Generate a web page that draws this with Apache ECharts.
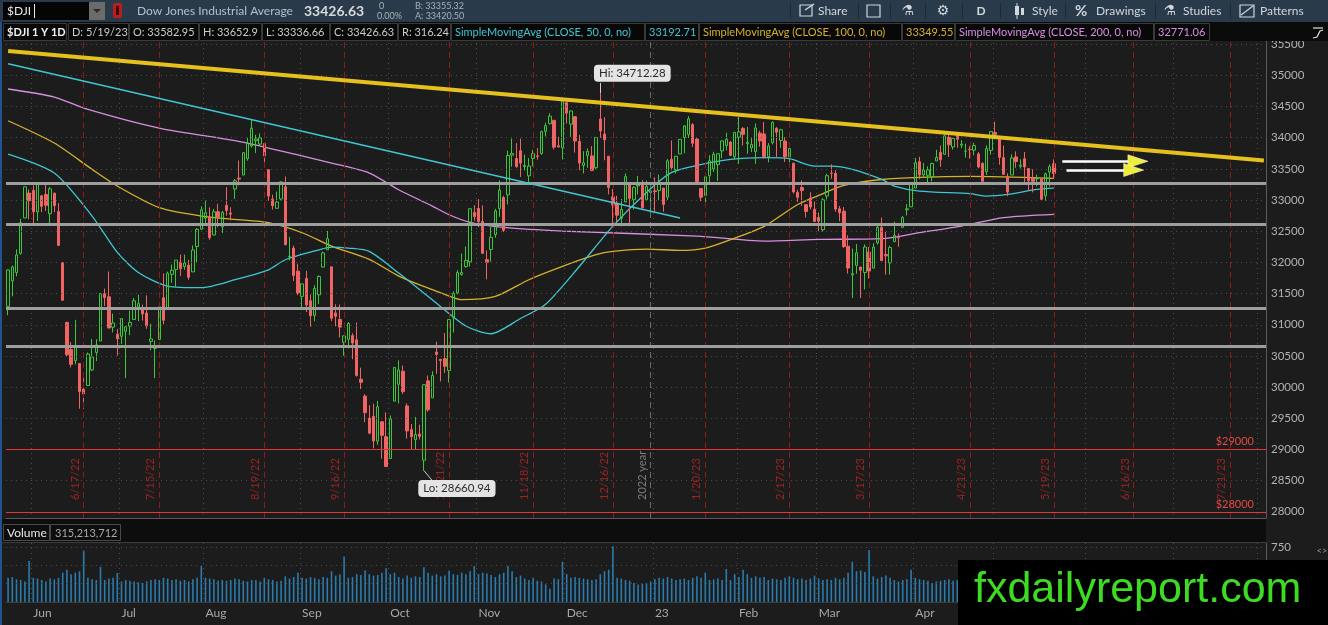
<!DOCTYPE html>
<html><head><meta charset="utf-8">
<script src="https://cdn.jsdelivr.net/npm/echarts@6/dist/echarts.min.js"></script>
<style>html,body{margin:0;padding:0;background:#1c1c1c;overflow:hidden}#c{width:1328px;height:625px}</style>
</head><body><div id="c"></div>
<script>
// ---------------- DATA ----------------
const HOLIDAYS = ['5/30/22','6/20/22','7/4/22','9/5/22','11/24/22','12/26/22','1/2/23','1/16/23','2/20/23','4/7/23','5/29/23','6/19/23','7/4/23'];
const N_SLOTS = 300; // 250 traded days + future empty days on the axis
const opens = [31295,31703,31839,32145,32714,33112,
33156,32811,33068,33089,32783,33110,32816,31994,31039,30603,30424,30377,29966,30026,30276,30556,30739,31496,31448,30961,30847,
30815,30896,30978,31084,31283,31251,31189,30733,30622,30764,31433,31262,31809,31885,32003,31934,31955,31848,32254,32532,
32712,32729,32440,32813,32575,32915,32792,33178,33352,33404,33664,33868,33954,33898,33907,33488,33015,32868,33017,33215,32092,32230,31860,
31455,31743,31384,31149,31480,31925,32202,31930,31190,31084,30720,30765,30826,30758,30127,29856,29503,29531,29134,29444,29205,
28855,29774,30046,30255,29698,29318,29155,29245,28826,30100,29828,30563,30445,30456,30265,31111,31510,31806,31934,32008,32802,
32864,32660,32045,32208,32448,32865,33040,33083,33721,33667,33791,33537,33389,33667,33709,33748,34103,34225,34278,33871,33840,
34563,34217,34338,33941,33556,33715,33709,33519,34300,34059,33704,33052,32953,32712,32969,33244,33006,33226,33279,33004,33121,
33148,33155,33193,33048,33654,33486,33740,34004,34050,34213,33979,33185,33072,33390,33500,33569,33789,33877,33930,33693,
34009,34150,33904,33837,33778,34074,34060,33697,33921,34151,33957,33948,33694,33593,33124,33201,32926,33035,32854,
32721,32524,33066,33432,33429,32860,32822,32259,31799,31952,31926,31838,32164,31908,32315,32561,32128,31993,32332,32400,32563,32844,32892,
33192,33616,33404,33398,33369,33628,33766,33734,34006,33852,34061,33881,33784,33813,33800,33740,33589,33456,33797,
34085,33974,33682,33381,33402,33692,33542,33663,33506,33353,33340,33342,33069,33448,33582.95];
const highs = [31885,31949,32208,32699,33213,33170,
33236,33258,33080,33272,33212,33120,32952,32005,31039,30722,31079,30377,30143,30554,30773,30768,31501,31580,31855,31180,30932,
31098,30978,31227,31430,31483,31322,31471,31016,30749,31316,31824,31852,31967,32037,32124,32125,32043,32272,32551,32900,
32991,32883,32859,32940,32825,33210,32885,33338,33635,33761,33999,34281,34047,34069,33907,33488,33087,33137,33296,33378,32406,32270,31979,
31657,31865,31486,31634,31792,32174,32505,31930,31328,31326,30828,31044,30865,31035,30312,29886,29711,29735,29779,29445,29595,
29545,30316,30429,30345,29738,29408,29522,29397,30039,30186,30254,30728,30452,30866,31085,31537,31876,32142,32255,32862,32918,
33015,32915,32190,32576,32859,33318,33067,33793,33987,33913,33987,33730,33674,33807,33834,34113,34242,34393,34290,34015,34590,
34595,34438,34348,34044,33785,33829,33865,34005,34712.28,34328,33704,33180,33068,33018,33428,33271,33223,33387,33321,33313,33148,
33365,33409,33193,33658,33957,33708,33973,34204,34347,34233,34000,33185,33376,33720,33775,33744,33954,34082,33946,34086,
34335,34170,34171,33997,34230,34112,34252,33914,34262,34171,34143,34008,33851,33593,33165,33316,32926,33126,32976,
32799,33031,33422,33572,33479,32905,32889,32434,32221,32295,31926,32290,32247,32308,32584,32719,32491,32268,32654,32464,32746,32935,33275,
33676,33694,33597,33540,33599,33808,33874,34063,34082,33998,34083,33963,33905,33865,33920,33771,33606,33877,34104,
34257,34021,33876,33430,33733,33781,33654,33773,33506,33495,33408,33346,33441,33573,33652.9];
const lows = [31153,31456,31776,32123,32714,32693,
32607,32663,32807,32827,32612,32805,32270,31393,30491,30315,30365,29654,29653,30026,30256,30417,30739,31300,30946,30878,30506,
30690,30144,30832,31084,31056,31067,30936,30593,30144,30764,31006,31262,31674,31601,31784,31882,31720,31848,31989,32532,
32584,32361,32440,32567,32471,32750,32673,33018,33236,33397,33632,33842,33755,33865,33609,32989,32848,32866,32996,32278,32034,31702,31475,
31235,31204,30967,31056,31331,31925,32202,31059,30975,30797,30503,30624,30447,30169,29968,29439,29244,29017,29075,28850,28716,
28855,29774,29739,29889,29173,28991,28996,29161,28660.94,29604,29828,30214,30090,30228,30073,30876,31487,31789,31915,31933,32668,
32566,32134,31728,32012,32397,32731,32486,32931,33534,33517,33372,33476,33251,33539,33647,33725,34021,34214,33813,33844,33649,
34229,34014,33762,33478,33428,33518,33464,33496,33999,33639,33091,32573,32648,32580,32969,32581,32847,33090,32869,33004,32818,
32812,32998,32813,33000,33474,33426,33740,33751,33995,33853,33282,32983,32943,33284,33452,33306,33670,33798,33707,33650,
33582,33877,33742,33768,33582,33855,33663,33605,33894,33692,33838,33610,33550,33108,32972,32907,32719,32851,32655,
32500,32495,33010,33342,32813,32660,32230,31822,31429,31819,31429,31567,31740,31908,32286,32030,31805,31806,32332,32251,32563,32754,32892,
33192,33336,33355,33272,33300,33628,33534,33734,33691,33810,33838,33831,33680,33662,33719,33510,33259,33404,33729,
33976,33567,33414,33062,33402,33519,33506,33266,33150,33125,33221,33004,32991,33216,33336.66];
const closes = [31880,31929,32120,32637,33213,32990,
32813,33248,32900,32916,33180,32911,32273,31393,30517,30365,30669,29927,29889,30530,30483,30677,31501,31438,30947,31029,30775,
31097,30968,31038,31385,31338,31174,30981,30773,30630,31288,31073,31827,31875,32037,31899,31990,31762,32198,32530,32845,
32798,32396,32813,32727,32803,32833,32774,33310,33337,33761,33912,34152,33980,33999,33707,33064,32910,32969,33292,32283,32099,31791,31510,
31656,31318,31145,31581,31775,32152,32381,31105,31135,30962,30822,31020,30706,30184,30077,29590,29261,29135,29684,29226,28726,
29491,30316,30274,29927,29297,29203,29239,29211,30039,29635,30186,30524,30424,30334,31083,31500,31837,31839,32033,32862,32733,
32653,32148,32001,32403,32827,33161,32514,33715,33748,33537,33593,33554,33546,33746,33700,34098,34194,34347,33849,33853,34590,
34395,34430,33947,33596,33598,33781,33476,34005,34109,33966,33202,32920,32758,32850,33376,33027,33204,33242,32876,33221,33147,
33136,33270,32930,33631,33518,33704,33973,34190,34303,33911,33297,33045,33375,33630,33734,33744,33949,33978,33717,34086,
34093,34054,33926,33891,34157,33949,33700,33869,34246,34089,34128,33697,33827,33130,33045,33154,32817,32889,32657,
32662,33004,33391,33431,32856,32798,32255,31910,31819,32155,31875,32247,31862,32245,32561,32030,32105,32238,32432,32394,32718,32859,33274,
33601,33402,33483,33485,33587,33685,33647,34030,33886,33987,33977,33897,33787,33809,33875,33531,33302,33826,34098,
34052,33685,33414,33128,33674,33619,33562,33531,33310,33301,33349,33012,33421,33536,33426.63];
// volume, millions of shares
const volumes = [330,340,310,300,280,560,
330,320,300,280,320,310,330,400,440,380,400,420,700,330,310,300,480,300,320,330,395,
280,300,290,280,270,260,280,300,310,300,330,320,300,310,290,300,280,310,330,490,
330,320,310,290,300,290,300,320,310,290,280,300,300,280,330,310,300,280,290,350,320,340,400,
330,320,340,330,310,340,330,420,360,380,620,330,340,380,370,430,380,360,370,400,460,
380,400,340,320,360,330,350,340,475,400,360,380,350,360,430,380,370,400,380,420,490,
380,400,390,370,340,380,400,490,420,340,360,320,300,330,290,280,240,180,320,310,550,
380,330,340,330,320,310,300,310,380,420,440,760,330,320,300,290,260,240,250,260,280,
310,330,320,340,320,300,310,320,300,330,350,330,400,300,310,320,300,450,300,380,
340,440,380,330,350,330,340,300,320,310,300,330,350,330,310,320,300,320,360,
320,300,310,300,330,310,330,400,550,420,430,410,710,350,320,340,360,330,300,280,300,310,440,
330,310,300,290,260,280,290,300,310,290,300,280,300,330,290,310,300,320,340,
300,320,310,300,290,280,270,290,300,280,270,290,310,300,315];
// moving averages at sample bars (bar index -> value)
const sma50Idx = [0,11,20,26,31,38,46,54,62,66,74,77,81,86,93,101,109,115,122,128,136,144,152,158,164,172,180,186,192,196,201,208,211,217,229,233,238,245,249];
const sma50Val = [33739,33434,32744,32160,31839,31620,31594,31722,31882,32043,32203,32246,32230,32176,31829,31400,30980,30856,31100,31330,31935,32583,33123,33444,33556,33652,33680,33664,33546,33546,33493,33332,33225,33144,33103,33064,33091,33172,33192.71];
const sma100Idx = [0,11,20,26,36,46,54,62,70,77,86,93,101,105,108,116,124,132,140,144,152,160,166,172,180,188,193,199,208,217,229,249];
const sma100Val = [34273,33915,33493,33225,32878,32744,32690,32637,32476,32262,32048,31781,31562,31460,31402,31455,31722,31936,32123,32176,32214,32193,32230,32364,32578,32930,33075,33234,33330,33365,33380,33349.55];
const sma200Idx = [0,11,18,36,54,62,77,86,93,101,105,110,118,132,164,180,193,208,217,227,237,249];
const sma200Val = [34782,34653,34477,34156,33952,33835,33594,33434,33166,32904,32765,32642,32562,32503,32423,32343,32369,32382,32477,32583,32718,32771.06];
const priceTicks = [28000,28500,29000,29500,30000,30500,31000,31500,32000,32500,33000,33500,34000,34500,35000,35500];
const volumeTicks = [250,500,750];
const expiries = ['6/17/22','7/15/22','8/19/22','9/16/22','10/21/22','11/18/22','12/16/22','1/20/23','2/17/23','3/17/23','4/21/23','5/19/23','6/16/23','7/21/23'];
const supportLevels = [33265,32610,31272,30648];
const priceLines = [29000,28000];
const monthNames = ['Jan','Feb','Mar','Apr','May','Jun','Jul','Aug','Sep','Oct','Nov','Dec'];

// ---------------- BUILD ----------------
const dates = [];
(function(){
  const d = new Date(2022,4,23);
  while (dates.length < N_SLOTS) {
    const s = (d.getMonth()+1)+'/'+d.getDate()+'/'+String(d.getFullYear()).slice(2);
    const wd = d.getDay();
    if (wd!==0 && wd!==6 && !HOLIDAYS.includes(s)) dates.push(s);
    d.setDate(d.getDate()+1);
  }
})();
const monthOf = s => +s.split('/')[0];
const monthStart = new Set();
for (let i=1;i<dates.length;i++) if (monthOf(dates[i])!==monthOf(dates[i-1])) monthStart.add(i);

const candles = opens.map((o,i)=>{
  const c = closes[i];
  return [o, c, Math.min(lows[i],o,c), Math.max(highs[i],o,c)];
});
function sparse(idx, val){ const a = new Array(closes.length).fill(null); idx.forEach((k,j)=>a[k]=val[j]); return a; }

const FONT = 'Lato, "Open Sans", sans-serif';
const CYAN = '#3ec7d3', YEL = '#d6b22a', VIO = '#d88ee2';

const chart = echarts.init(document.getElementById('c'));

// ---------------- CHROME (graphic) ----------------
const G = [];
function txt(x,y,s,o){ o=o||{}; G.push({type:'text', x:x, y:y, z:o.z||101, silent:true,
  style:{text:s, fill:o.c||'#c8c8c8', font:(o.b?'bold ':'')+(o.fs||12)+'px '+(o.ff||FONT), align:o.a||'left', verticalAlign:'middle', textAlign:o.a||'left', textVerticalAlign:'middle'}}); }
function rect(x,y,w,h,fill,o){ o=o||{}; G.push({type:'rect', z:o.z||100, silent:true, shape:{x:x,y:y,width:w,height:h,r:o.r||0}, style:{fill:fill, stroke:o.s||null, lineWidth:o.lw||1}}); }
function ln(x1,y1,x2,y2,c,w,z){ G.push({type:'line', z:z||101, silent:true, shape:{x1:x1,y1:y1,x2:x2,y2:y2}, style:{stroke:c, lineWidth:w||1}}); }

// toolbar
rect(0,0,1328,22,'#293a4a');
rect(3,2,86,18,'#050505');
txt(7,11,'$DJI',{c:'#e8e8e8',fs:12});
ln(34.5,4,34.5,18,'#e8e8e8',1);
rect(89,2,16,18,'#6b6b6b');
G.push({type:'polygon', z:101, silent:true, shape:{points:[[93,9],[101,9],[97,13]]}, style:{fill:'#2a2a2a'}});
rect(113,3,9,15,'#b81e1e',{r:2});
rect(116,6,3,9,'#3a0a0a');
txt(137,11,'Dow Jones Industrial Average',{c:'#b4c0ca',fs:12});
txt(304,11,'33426.63',{c:'#dadada',fs:14,b:true});
txt(379,6,'0',{c:'#a8b2ba',fs:9});
txt(377,16,'0.00%',{c:'#a8b2ba',fs:9});
txt(415,6,'B: 33355.32',{c:'#a8b2ba',fs:9});
txt(415,16,'A: 33420.50',{c:'#a8b2ba',fs:9});
// toolbar right side
[790,858,890,925,962,1000,1065,1155,1230].forEach(x=>ln(x+0.5,3,x+0.5,19,'#1d2a36',1));
rect(800,5,12,11,null,{s:'#d0d8de',lw:1.2});
ln(805,10,814,4,'#d0d8de',1.5);
txt(818,11,'Share',{c:'#d0d8de'});
rect(867,5,13,12,null,{s:'#d0d8de',lw:1.2});
txt(908,11,'\u2697',{c:'#d0d8de',fs:14,a:'center',ff:'"DejaVu Sans"'});
txt(943,11,'\u2699',{c:'#d0d8de',fs:14,a:'center',ff:'"DejaVu Sans"'});
txt(981,11,'D',{c:'#d0d8de',b:true,a:'center'});
rect(1015,6,4,9,'#d0d8de'); ln(1017,3,1017,19,'#d0d8de',1); rect(1021,8,3,7,'#d0d8de');
txt(1032,11,'Style',{c:'#d0d8de'});
txt(1075,11,'%',{c:'#d0d8de',fs:15,b:true});
txt(1096,11,'Drawings',{c:'#d0d8de'});
txt(1170,11,'\u2697',{c:'#d0d8de',fs:14,a:'center',ff:'"DejaVu Sans"'});
txt(1183,11,'Studies',{c:'#d0d8de'});
rect(1240,5,14,12,null,{s:'#d0d8de',lw:1.2});
ln(1241,15,1253,6,'#d0d8de',1.2);
txt(1260,11,'Patterns',{c:'#d0d8de'});

// study/price header row
rect(0,22,1328,19,'#0b0b0b');
const segs = [
  [3,67,'$DJI 1 Y 1D','#f2f2f2',true],
  [68,129,'D: 5/19/23'],
  [129,199,'O: 33582.95'],
  [199,262,'H: 33652.9'],
  [262,330,'L: 33336.66'],
  [330,398,'C: 33426.63'],
  [398,451,'R: 316.24'],
  [451,645,'SimpleMovingAvg (CLOSE, 50, 0, no)',CYAN],
  [645,699,'33192.71',CYAN],
  [699,902,'SimpleMovingAvg (CLOSE, 100, 0, no)',YEL],
  [902,955,'33349.55',YEL],
  [955,1154,'SimpleMovingAvg (CLOSE, 200, 0, no)',VIO],
  [1154,1210,'32771.06',VIO]
];
segs.forEach(s=>{
  rect(s[0]+0.5,23.5,s[1]-s[0]-1,17,'#080808',{s:'#3a3a3a'});
  txt(s[0]+4,32,s[2],{c:s[3]||'#cbcbcb',fs:11,b:!!s[4]});
});
rect(1310,24,16,16,'#0b0b0b');
ln(1313,28,1323,28,'#e0e0e0',1.2);
G.push({type:'polyline', z:101, silent:true, shape:{points:[[1313,38],[1317,37],[1320,31],[1323,30]]}, style:{stroke:'#e0e0e0',lineWidth:1.2,fill:null}});

// left blue edge
rect(0,22,2,603,'#1f5490');

// volume header band
rect(2,519,1264,23,'#0d0d0d',{z:90});
rect(3.5,524.5,46,16,'#0d0d0d',{s:'#4a4a4a',z:91});
txt(7,533,'Volume',{c:'#e6e6e6',fs:12});
rect(50.5,524.5,70,16,'#0d0d0d',{s:'#4a4a4a',z:91});
txt(55,533,'315,213,712',{c:'#a9a9a9',fs:11});
ln(2,542.5,1266,542.5,'#3c3c3c',1,92);
txt(1322,551,'<>',{c:'#9a9a9a',fs:9,a:'center'});

// watermark
rect(958,560,370,65,'#000000',{z:200});
txt(974,590,'fxdailyreport.com',{c:'#3ddc22',fs:43,ff:'"Liberation Sans", Arial, sans-serif',z:201});

// ---------------- OPTION ----------------
const dummy = (z, extra) => Object.assign({type:'line', data:[], xAxisIndex:0, yAxisIndex:0, z:z, silent:true, animation:false}, extra);

const option = {
  backgroundColor:'#1c1c1c',
  animation:false,
  textStyle:{fontFamily:FONT},
  grid:[
    {left:6, right:62, top:38, height:480},
    {left:6, right:62, top:543, height:59}
  ],
  xAxis:[
    {type:'category', gridIndex:0, data:dates, boundaryGap:true,
     axisLine:{show:true, lineStyle:{color:'#5a5a5a'}}, axisTick:{show:false}, axisLabel:{show:false},
     splitLine:{show:true, interval:(i)=>monthStart.has(i), lineStyle:{color:'#4c4c4c', type:[1,4]}}},
    {type:'category', gridIndex:1, data:dates, boundaryGap:true,
     axisLine:{show:true, lineStyle:{color:'#3c3c3c'}}, axisTick:{show:false},
     axisLabel:{show:true, interval:(i)=>monthStart.has(i), align:'left', margin:5, color:'#a8a8a8', fontSize:12, fontFamily:FONT,
       formatter:(v)=>{const p=v.split('/'); const m=+p[0]; return m===1 ? p[2] : monthNames[m-1];}},
     splitLine:{show:true, interval:(i)=>monthStart.has(i), lineStyle:{color:'#4c4c4c', type:[1,4]}}}
  ],
  yAxis:[
    {type:'value', gridIndex:0, position:'right', min:27900, max:35600, interval:100,
     axisLine:{show:true, lineStyle:{color:'#5a5a5a'}}, axisTick:{show:false}, splitLine:{show:false},
     axisLabel:{margin:5, color:'#b2b2b2', fontSize:11.5, fontFamily:FONT, formatter:(v)=> (v%500===0 ? String(v) : '')}},
    {type:'value', gridIndex:1, position:'right', min:0, max:805, interval:50,
     axisLine:{show:true, lineStyle:{color:'#5a5a5a'}}, axisTick:{show:false}, splitLine:{show:false},
     axisLabel:{margin:5, color:'#b2b2b2', fontSize:11.5, fontFamily:FONT, formatter:(v)=> (v===750 ? '750' : '')}}
  ],
  series:[
    // dotted price grid
    dummy(1,{markLine:{silent:true, symbol:['none','none'], label:{show:false}, animation:false,
      lineStyle:{color:'#4c4c4c', type:[1,4], width:1}, data:priceTicks.map(v=>({yAxis:v}))}}),
    // option-expiry lines + year separator
    dummy(2,{markLine:{silent:true, symbol:['none','none'], animation:false,
      lineStyle:{color:'#8c1b1b', type:[6,4], width:1},
      label:{show:true, position:'insideStartTop', distance:[18,3], color:'#9a2424', fontSize:11, fontFamily:FONT},
      data: expiries.map(e=>({xAxis:e, label:{formatter:e}})).concat([
        {xAxis:'12/30/22', lineStyle:{color:'#6c6c6c', type:[6,4], width:1}, label:{formatter:'2022 year', color:'#7e7e7e'}}
      ])}}),
    {type:'line', name:'SMA200', xAxisIndex:0, yAxisIndex:0, data:sparse(sma200Idx,sma200Val), connectNulls:true, smooth:0.25, showSymbol:false, z:3, silent:true, lineStyle:{color:VIO, width:1.3}},
    {type:'line', name:'SMA100', xAxisIndex:0, yAxisIndex:0, data:sparse(sma100Idx,sma100Val), connectNulls:true, smooth:0.25, showSymbol:false, z:3, silent:true, lineStyle:{color:YEL, width:1.3}},
    {type:'line', name:'SMA50', xAxisIndex:0, yAxisIndex:0, data:sparse(sma50Idx,sma50Val), connectNulls:true, smooth:0.25, showSymbol:false, z:3, silent:true, lineStyle:{color:CYAN, width:1.3}},
    {type:'candlestick', name:'$DJI', xAxisIndex:0, yAxisIndex:0, data:candles, barWidth:3, z:4, silent:true,
     itemStyle:{color:'rgba(0,0,0,0)', borderColor:'#3cc83c', color0:'#f06464', borderColor0:'#f06464', borderWidth:1}},
    // drawings
    dummy(6,{markLine:{silent:true, symbol:['none','none'], animation:false, label:{show:false},
      data:[].concat(
        supportLevels.map(v=>({yAxis:v, lineStyle:{color:'#9e9e9e', width:3, type:'solid'}})),
        priceLines.map(v=>({yAxis:v, lineStyle:{color:'#e03636', width:1, type:'solid'},
          label:{show:true, position:'insideEndTop', distance:[12,2], formatter:'$'+v, color:'#e44848', fontSize:11, fontFamily:FONT}})),
        [
          [{coord:[dates[0],35390], lineStyle:{color:'#e6c01e', width:4, type:'solid'}},{coord:[dates[N_SLOTS-1],33635]}],
          [{coord:[dates[0],35188], lineStyle:{color:CYAN, width:1.5, type:'solid'}},{coord:[dates[160],32711]}],
          [{coord:[dates[251],33622], lineStyle:{color:'#ffffff', width:2.5, type:'solid'}},{coord:[dates[267],33622]}],
          [{coord:[dates[252],33482], lineStyle:{color:'#ffffff', width:2.5, type:'solid'}},{coord:[dates[266],33482]}],
          // pointers of the Hi / Lo bubbles
          [{coord:[dates[141],34712.28], lineStyle:{color:'#cfcfcf', width:1, type:'solid'}},{coord:[dates[141],34880]}],
          [{coord:[dates[99],28660.94], lineStyle:{color:'#cfcfcf', width:1, type:'solid'}},{coord:[dates[101],28500]}]
        ])},
      markPoint:{silent:true, animation:false, symbol:'triangle', symbolRotate:-90, symbolSize:[13,20], label:{show:false},
        itemStyle:{color:'#eeee3a', borderColor:'#ffffff', borderWidth:0.5},
        data:[{coord:[dates[269],33622]},{coord:[dates[268],33482]}]}}),
    // price tags & Hi/Lo bubbles
    dummy(8,{markLine:{silent:true, symbol:['none','none'], animation:false, lineStyle:{opacity:0},
      data:[
        {yAxis:33426.63, label:{show:true, position:'end', distance:2, formatter:'33426.63', backgroundColor:'#f06262', color:'#3a0808', padding:[2,3,1,3], borderRadius:2, fontSize:12, fontFamily:FONT}},
        {yAxis:32771.06, label:{show:true, position:'end', distance:2, formatter:'32771.06', backgroundColor:'#d98ee4', color:'#3a0c44', padding:[2,3,1,3], borderRadius:2, fontSize:12, fontFamily:FONT}}
      ]},
      markPoint:{silent:true, animation:false, symbol:'circle', symbolSize:1, itemStyle:{color:'rgba(0,0,0,0)'},
        data:[
          {coord:[dates[141],34712.28], label:{show:true, formatter:'Hi: 34712.28', offset:[32,-20], backgroundColor:'#e4e4e4', borderRadius:4, padding:[3,5,2,5], color:'#2a2a2a', fontSize:11.5, fontFamily:FONT}},
          {coord:[dates[99],28660.94], label:{show:true, formatter:'Lo: 28660.94', offset:[33,18], backgroundColor:'#e4e4e4', borderRadius:4, padding:[3,5,2,5], color:'#2a2a2a', fontSize:11.5, fontFamily:FONT}}
        ]}}),
    // volume
    {type:'bar', name:'Volume', xAxisIndex:1, yAxisIndex:1, data:volumes, barWidth:1.6, z:3, silent:true,
     itemStyle:{color:'#2b7bad'},
     markLine:{silent:true, symbol:['none','none'], animation:false, label:{show:false},
       lineStyle:{color:'#4c4c4c', type:[1,4], width:1}, data:volumeTicks.map(v=>({yAxis:v}))}}
  ],
  graphic:G
};
chart.setOption(option);
</script></body></html>
